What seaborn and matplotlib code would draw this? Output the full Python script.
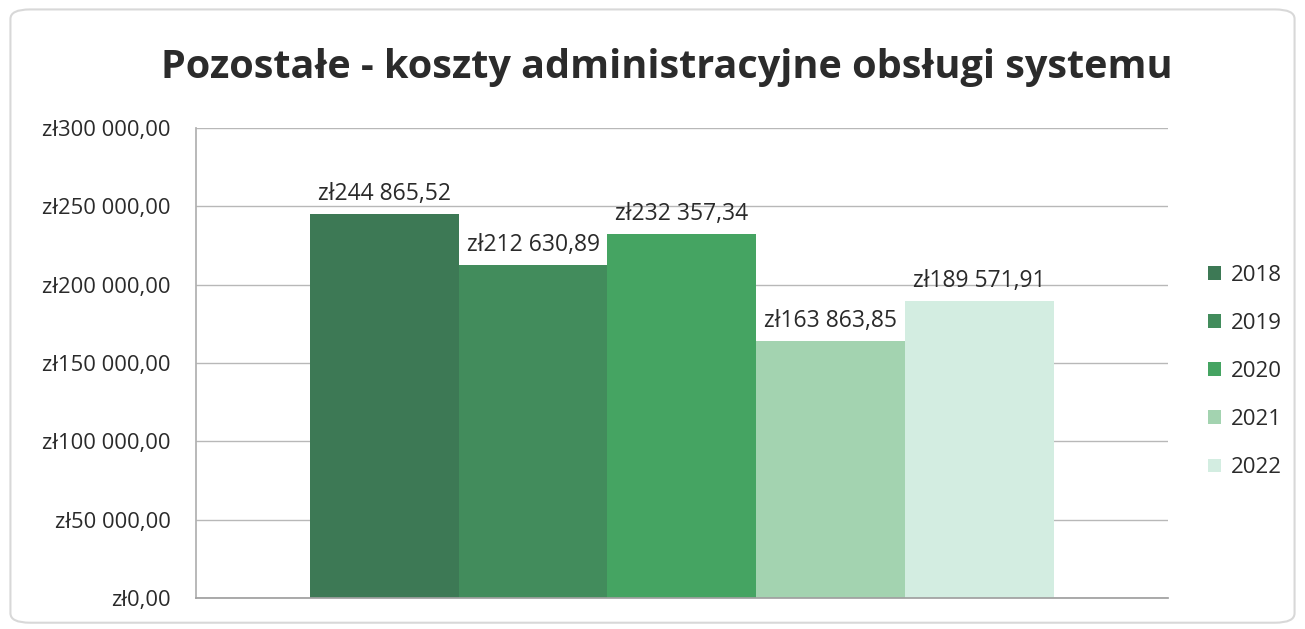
import numpy as np
import pandas as pd
import matplotlib
matplotlib.use("Agg")
import matplotlib.pyplot as plt
from matplotlib.patches import FancyBboxPatch
from matplotlib.ticker import FuncFormatter
import seaborn as sns

# data
YEARS = ["2018", "2019", "2020", "2021", "2022"]
VALUES = [244865.52, 212630.89, 232357.34, 163863.85, 189571.91]
COLORS = ["#3d7955", "#428c5c", "#45a462", "#a3d3b0", "#d3ede1"]
TITLE = "Pozostałe - koszty administracyjne obsługi systemu"
Y_TICKS = [0, 50000, 100000, 150000, 200000, 250000, 300000]


def pln(v):
    s = f"{v:,.2f}".replace(",", " ").replace(".", ",")
    return "zł" + s


sns.set_theme(style="white")
plt.rcParams["font.family"] = ["Open Sans", "DejaVu Sans"]

df = pd.DataFrame({"cat": ["x"] * len(YEARS), "year": YEARS, "value": VALUES})

fig = plt.figure(figsize=(13.05, 6.29), dpi=100)
ax = fig.add_axes([0.150, 0.049, 0.745, 0.748])

sns.barplot(data=df, x="cat", y="value", hue="year", hue_order=YEARS,
            palette=COLORS, width=0.765, saturation=1, ax=ax,
            edgecolor="none", linewidth=0, errorbar=None)

ax.set_ylim(0, 300000)
ax.set_yticks(Y_TICKS)
ax.yaxis.set_major_formatter(FuncFormatter(lambda v, p: pln(v)))
ax.set_xticks([])
ax.set_xlabel("")
ax.set_ylabel("")
ax.tick_params(axis="y", labelsize=15.8, colors="#2a2a2a", length=0, pad=18)
ax.grid(axis="y", color="#b8b8b8", linewidth=1)
ax.set_axisbelow(True)
for side in ["top", "right"]:
    ax.spines[side].set_visible(False)
ax.spines["left"].set_color("#b0b0b0")
ax.spines["bottom"].set_color("#a0a0a0")

for cont in ax.containers:
    for bar in cont:
        h = bar.get_height()
        ax.text(bar.get_x() + bar.get_width() / 2, h + 5000, pln(h),
                ha="center", va="bottom", fontsize=16.5, color="#2a2a2a")

fig.text(0.511, 0.892, TITLE, ha="center", va="center",
         fontsize=28.5, fontweight="bold", color="#2b2b2b")

handles, labels = ax.get_legend_handles_labels()
ax.legend(handles, labels, loc="center left", bbox_to_anchor=(1.021, 0.482),
          frameon=False, fontsize=16, handlelength=0.55, handleheight=0.55,
          labelspacing=1.22, handletextpad=0.45, labelcolor="#2a2a2a")

fig.patches.append(FancyBboxPatch((0.008, 0.01), 0.984, 0.975,
                                  boxstyle="round,pad=0,rounding_size=0.015",
                                  transform=fig.transFigure, fill=False,
                                  edgecolor="#d8d8d8", linewidth=1.5))

fig.savefig("out.png", dpi=100, facecolor="white")
